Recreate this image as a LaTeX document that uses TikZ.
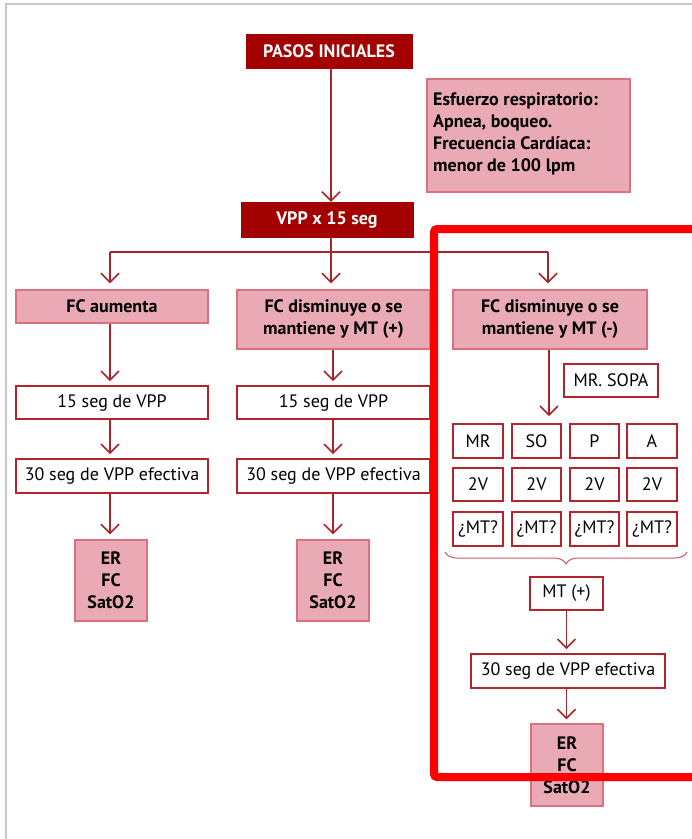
\documentclass[tikz,border=0pt]{standalone}
\usepackage{fontspec}
\setmainfont{PT Sans}
\usetikzlibrary{arrows.meta,decorations.pathreplacing}
\definecolor{dred}{HTML}{A30000}
\definecolor{lnred}{HTML}{A8232A}
\definecolor{pinkf}{HTML}{E9AAB5}
\definecolor{pinkd}{HTML}{D9717F}
\definecolor{wbord}{HTML}{B0262C}
\definecolor{frame}{HTML}{FF0000}
\tikzset{
  darkbox/.style={fill=dred, draw=dred, text=white, font=\bfseries\fontsize{18}{21}\selectfont, inner sep=0pt},
  pinkbox/.style={fill=pinkf, draw=pinkd, line width=1.3pt, font=\bfseries\fontsize{18}{22}\selectfont, align=center, inner sep=0pt},
  whitebox/.style={fill=white, draw=wbord, line width=1.6pt, font=\fontsize{18}{21}\selectfont, inner sep=0pt},
  conn/.style={draw=lnred, line width=1.8pt},
  arr/.style={conn, -{Straight Barb[length=9pt,width=18pt,line width=1.6pt]}, shorten >=6pt},
}
\newcommand{\bx}[6]{\node[#1, minimum width={#4-#2}, minimum height={#5-#3}] (#6) at ({(#2+#4)/2},{(#3+#5)/2})}
\begin{document}
\begin{tikzpicture}[x=1pt,y=-1pt]
\useasboundingbox (0,0) rectangle (692,839);
\fill[white] (0,0) rectangle (692,839);
\draw[black!22, line width=2pt] (6,839) -- (6,4) -- (692,4);

\bx{darkbox}{246}{34}{412}{68}{pasos} {PASOS INICIALES};
\node[fill=pinkf, draw=pinkd, line width=1.3pt, minimum width=203pt, minimum height=113pt, inner sep=0pt] (info) at (528.5,135.5) {};
\node[anchor=west, align=left, font=\bfseries\fontsize{18}{22}\selectfont, inner sep=0pt] (infot) at (433,134) {Esfuerzo respiratorio:\\Apnea, boqueo.\\Frecuencia Cardíaca:\\menor de 100 lpm};
\bx{darkbox}{241}{202}{413}{237}{vpp} {VPP x 15 seg};

\bx{pinkbox}{16}{290}{208}{323}{fc1} {FC aumenta};
\bx{pinkbox}{237}{290}{430}{349}{fc2} {FC disminuye o se\\mantiene y MT (+)};
\bx{pinkbox}{453}{290}{647}{349}{fc3} {FC disminuye o se\\mantiene y MT (-)};

\bx{whitebox}{16}{386}{208}{419}{a1} {15 seg de VPP};
\bx{whitebox}{16}{459}{208}{493}{a2} {30 seg de VPP efectiva};
\bx{pinkbox}{75}{540}{147}{621}{a3} {ER\\FC\\SatO2};
\bx{whitebox}{237}{386}{430}{419}{b1} {15 seg de VPP};
\bx{whitebox}{237}{459}{430}{493}{b2} {30 seg de VPP efectiva};
\bx{pinkbox}{297}{540}{369}{621}{b3} {ER\\FC\\SatO2};

\bx{whitebox}{564}{364}{658}{397}{sopa} {MR. SOPA};
\bx{whitebox}{453}{424}{503}{458}{g11} {MR};
\bx{whitebox}{512}{424}{561}{458}{g12} {SO};
\bx{whitebox}{570}{424}{619}{458}{g13} {P};
\bx{whitebox}{627}{424}{677}{458}{g14} {A};
\bx{whitebox}{453}{468}{503}{501}{g21} {2V};
\bx{whitebox}{512}{468}{561}{501}{g22} {2V};
\bx{whitebox}{570}{468}{619}{501}{g23} {2V};
\bx{whitebox}{627}{468}{677}{501}{g24} {2V};
\bx{whitebox}{453}{512}{503}{546}{g31} {¿MT?};
\bx{whitebox}{512}{512}{561}{546}{g32} {¿MT?};
\bx{whitebox}{570}{512}{619}{546}{g33} {¿MT?};
\bx{whitebox}{627}{512}{677}{546}{g34} {¿MT?};
\bx{whitebox}{530}{577}{603}{610}{mtp} {MT (+)};
\bx{whitebox}{471}{654}{665}{688}{c2} {30 seg de VPP efectiva};
\bx{pinkbox}{531}{724}{603}{806}{c3} {ER\\FC\\SatO2};

% connectors
\coordinate (j) at (331,252);
\coordinate (jl) at (110,252);
\coordinate (jr) at (548,252);
\draw[arr, shorten >=0pt] (pasos.south -| 331,0) -- (vpp.north -| 331,0);
\draw[conn] (vpp.south -| j) -- (j);
\draw[conn] (jl) -- (jr);
\draw[arr] (jl) -- (fc1.north -| jl);
\draw[arr] (j) -- (fc2.north -| j);
\draw[arr] (jr) -- (fc3.north -| jr);

\draw[arr, shorten >=4pt] (fc1.south -| jl) -- (a1.north -| jl);
\draw[arr, shorten >=4pt] (a1.south -| jl) -- (a2.north -| jl);
\draw[arr, shorten >=5pt] (a2.south -| jl) -- (a3.north -| jl);
\coordinate (mx) at (333,0);
\draw[arr, shorten >=4pt] (fc2.south -| mx) -- (b1.north -| mx);
\draw[arr, shorten >=4pt] (b1.south -| mx) -- (b2.north -| mx);
\draw[arr, shorten >=5pt] (b2.south -| mx) -- (b3.north -| mx);
\coordinate (rx) at (549,0);
\draw[arr, shorten >=7pt] (fc3.south -| rx) -- (g12.north -| rx);
\coordinate (cx) at (566.5,0);
\draw[arr, shorten >=4pt] (mtp.south -| cx) -- (c2.north -| cx);
\draw[arr, shorten >=4pt] (c2.south -| cx) -- (c3.north -| cx);

% brace
\draw[draw=pinkd!80!dred, line width=1pt, decoration={brace, amplitude=12pt}, decorate] (687,552) -- (445,552);

% red frame
\draw[frame, line width=8pt, rounded corners=3pt] (700,229) -- (434,229) -- (434,777) -- (700,777);
\end{tikzpicture}
\end{document}
